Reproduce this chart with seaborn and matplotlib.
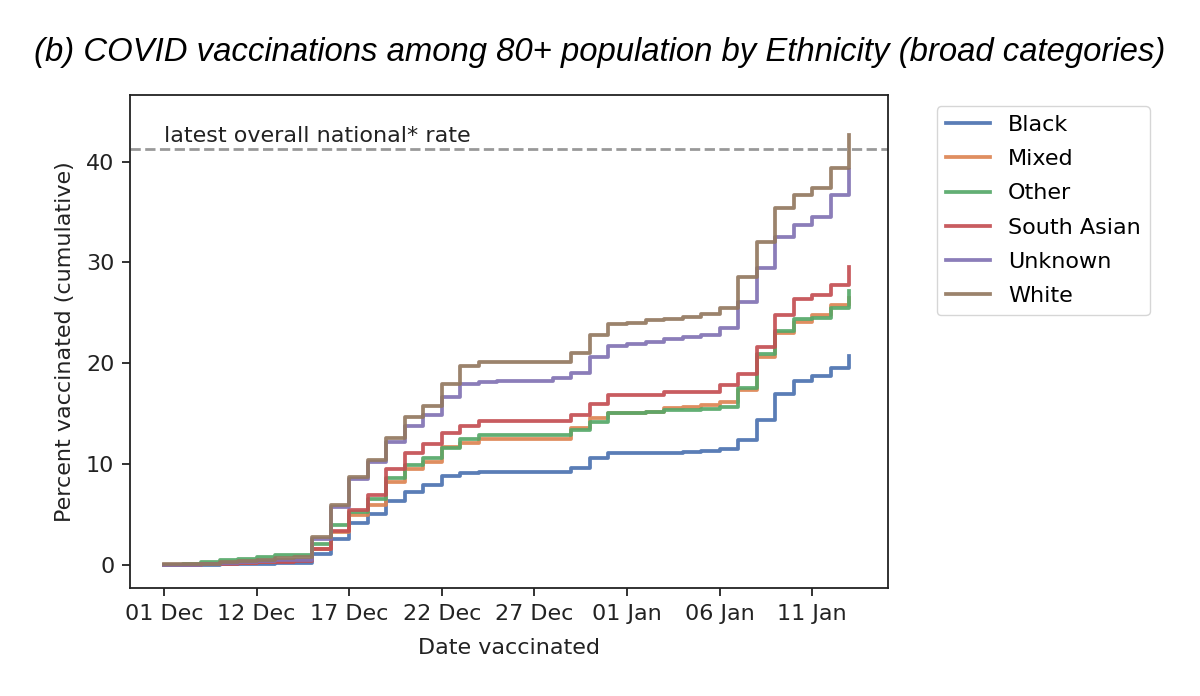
import numpy as np
import pandas as pd
import matplotlib
matplotlib.use("Agg")
import matplotlib.pyplot as plt
import seaborn as sns

# ---------------- data ----------------
start_date = "2020-12-07"
n_days = 38

ethnicities = ["Black", "Mixed", "Other", "South Asian", "Unknown", "White"]

black = [0.05, 0.05, 0.05, 0.08, 0.1, 0.12, 0.2, 0.25,
         1.15, 2.58, 4.15, 5.1, 6.35, 7.2, 7.9, 8.86, 9.1,
         9.26, 9.26, 9.26, 9.26, 9.26, 9.6, 10.6, 11.1, 11.1, 11.1, 11.1,
         11.25, 11.3, 11.5, 12.4, 14.4, 16.96, 18.3, 18.75, 19.5, 20.7]
mixed = [0.05, 0.05, 0.1, 0.2, 0.25, 0.3, 0.4, 0.5,
         1.6, 3.3, 5.0, 5.95, 8.2, 9.5, 10.25, 11.7, 12.1,
         12.55, 12.55, 12.55, 12.55, 12.55, 13.55, 14.55, 15.05, 15.05, 15.2, 15.55,
         15.65, 15.85, 16.2, 17.4, 20.6, 23.05, 24.1, 24.8, 25.8, 26.5]
other = [0.05, 0.1, 0.35, 0.55, 0.6, 0.8, 1.0, 1.05,
         2.08, 3.97, 5.3, 6.6, 8.66, 9.9, 10.6, 11.6, 12.5,
         12.9, 12.9, 12.9, 12.9, 12.9, 13.4, 14.2, 15.1, 15.1, 15.2, 15.35,
         15.4, 15.45, 15.7, 17.6, 20.9, 23.2, 24.4, 24.5, 25.5, 27.2]
south_asian = [0.05, 0.05, 0.1, 0.15, 0.25, 0.3, 0.35, 0.4,
               1.55, 3.37, 5.5, 7.0, 9.5, 11.1, 12.0, 13.1, 13.8,
               14.25, 14.25, 14.25, 14.25, 14.25, 14.9, 16.0, 16.9, 16.9, 16.9, 17.15,
               17.15, 17.15, 17.86, 18.95, 21.66, 24.8, 26.4, 26.8, 27.8, 29.6]
unknown = [0.05, 0.05, 0.1, 0.2, 0.3, 0.4, 0.5, 0.55,
           2.6, 5.8, 8.5, 10.2, 12.2, 13.8, 14.9, 16.7, 18.0,
           18.2, 18.3, 18.3, 18.3, 18.5, 19.0, 20.6, 21.7, 21.9, 22.15, 22.4,
           22.6, 22.8, 23.5, 26.1, 29.5, 32.5, 33.7, 34.5, 36.7, 39.2]
white = [0.1, 0.1, 0.15, 0.3, 0.4, 0.5, 0.7, 0.8,
         2.8, 5.95, 8.7, 10.4, 12.6, 14.65, 15.8, 18.0, 19.7,
         20.1, 20.1, 20.1, 20.1, 20.1, 21.0, 22.8, 23.9, 24.0, 24.3, 24.4,
         24.6, 24.9, 25.5, 28.6, 32.0, 35.4, 36.7, 37.4, 39.35, 42.66]

national_rate = 41.2
national_label = "latest overall national* rate"

tick_dates = ["2020-12-07", "2020-12-12", "2020-12-17", "2020-12-22",
              "2020-12-27", "2021-01-01", "2021-01-06", "2021-01-11"]
tick_labels = ["01 Dec", "12 Dec", "17 Dec", "22 Dec",
               "27 Dec", "01 Jan", "06 Jan", "11 Jan"]

title = "(b) COVID vaccinations among 80+ population by Ethnicity (broad categories)"
xlabel = "Date vaccinated"
ylabel = "Percent vaccinated (cumulative)"

# ---------------- frame ----------------
dates = pd.date_range(start_date, periods=n_days, freq="D")
series = [black, mixed, other, south_asian, unknown, white]
df = pd.concat(
    [pd.DataFrame({"date": dates, "pct": vals, "ethnicity": name})
     for name, vals in zip(ethnicities, series)],
    ignore_index=True,
)

# ---------------- plot ----------------
fs = 16
plt.rcParams["font.family"] = ["DejaVu Sans"]
plt.rcParams["axes.linewidth"] = 1.3
plt.rcParams["xtick.major.width"] = 1.3
plt.rcParams["ytick.major.width"] = 1.3
plt.rcParams["xtick.major.size"] = 5.6
plt.rcParams["ytick.major.size"] = 5.6
plt.rcParams["xtick.major.pad"] = 5.6
plt.rcParams["ytick.major.pad"] = 5.6

fig = plt.figure(figsize=(12, 6.96), dpi=100)
ax = fig.add_axes([0.1083, 0.1547, 0.6315, 0.7088])

sns.lineplot(data=df, x="date", y="pct", hue="ethnicity", hue_order=ethnicities,
             palette="deep", drawstyle="steps-post", linewidth=2.7, alpha=0.92, ax=ax)

ax.axhline(national_rate, color="#999999", linestyle=(0, (3.7, 1.6)), linewidth=2.0)
ax.text(dates[0], national_rate + 0.75, national_label, fontsize=fs,
        color="#222222", va="baseline", ha="left")

ax.set_xlim(dates[0] - pd.Timedelta(days=1.84), dates[0] + pd.Timedelta(days=39.08))
ax.set_ylim(-2.3, 46.6)
ax.set_xticks(pd.to_datetime(tick_dates))
ax.set_xticklabels(tick_labels)
ax.set_yticks([0, 10, 20, 30, 40])
ax.tick_params(labelsize=fs, colors="#222222")
for s in ax.spines.values():
    s.set_color("#222222")

ax.set_xlabel(xlabel, fontsize=fs, color="#222222", labelpad=10)
ax.set_ylabel(ylabel, fontsize=fs, color="#222222", labelpad=8)

handles, labels = ax.get_legend_handles_labels()
leg = ax.legend(handles, labels, loc="upper left", bbox_to_anchor=(1.05, 1),
                fontsize=fs, frameon=True, borderaxespad=0.5, labelspacing=0.64)
for line in leg.get_lines():
    line.set_linewidth(2.7)

fig.text(0.5, 1 - 52 / 696, title, ha="center", va="center",
         fontsize=23.7, style="italic", family=["Liberation Sans", "DejaVu Sans"])

fig.savefig("out.png", dpi=100)
